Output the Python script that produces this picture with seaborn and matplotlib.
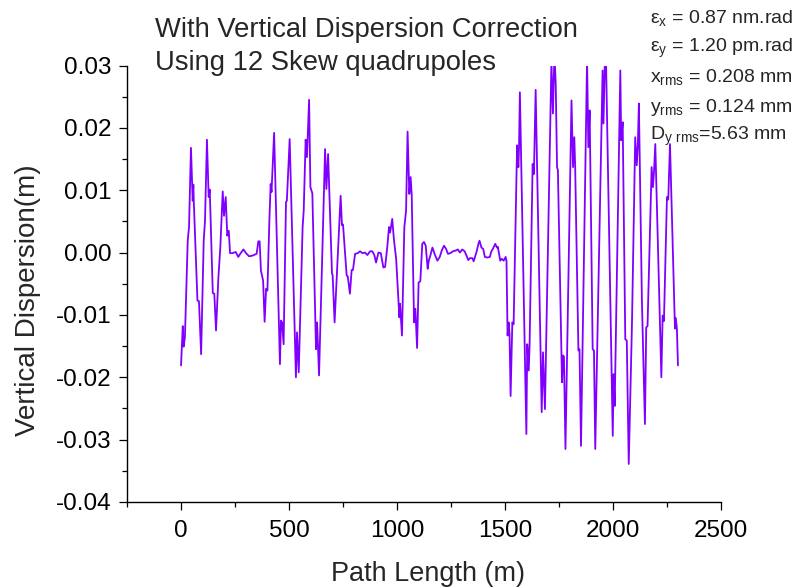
import numpy as np
import pandas as pd
import matplotlib
matplotlib.use("Agg")
import matplotlib.pyplot as plt
import seaborn as sns
from matplotlib.ticker import MultipleLocator, FormatStrFormatter

# ---- data ----
path_length = [
    0, 8, 12, 18, 31, 37, 46, 54, 57, 59, 76, 83, 93, 105, 111, 120, 128, 133, 147, 154,
    162, 173, 182, 193, 199, 207, 214, 221, 227, 238, 253, 265, 276, 289, 301, 315, 330, 350, 358, 364,
    370, 380, 387, 394, 400, 409, 415, 419, 431, 458, 463, 468, 475, 486, 490, 503, 532, 537, 545, 563,
    568, 577, 583, 593, 599, 608, 625, 630, 639, 667, 673, 681, 699, 702, 711, 739, 745, 750, 767, 772,
    782, 790, 796, 806, 818, 829, 840, 852, 863, 875, 886, 895, 903, 914, 925, 937, 945, 955, 963, 968,
    978, 986, 996, 1011, 1014, 1023, 1034, 1042, 1049, 1057, 1063, 1068, 1079, 1085, 1093, 1100, 1108, 1117, 1125, 1133,
    1142, 1147, 1155, 1164, 1176, 1187, 1198, 1208, 1218, 1227, 1236, 1247, 1259, 1270, 1282, 1291, 1302, 1313, 1322, 1330,
    1338, 1349, 1355, 1361, 1369, 1377, 1382, 1391, 1399, 1407, 1418, 1430, 1437, 1444, 1455, 1463, 1467, 1478, 1485, 1494,
    1503, 1507, 1512, 1517, 1521, 1526, 1534, 1540, 1556, 1562, 1565, 1569, 1599, 1603, 1610, 1614, 1628, 1634, 1642, 1670,
    1676, 1680, 1685, 1715, 1722, 1729, 1735, 1741, 1745, 1764, 1769, 1773, 1780, 1808, 1815, 1821, 1825, 1840, 1845, 1852,
    1880, 1886, 1892, 1906, 1912, 1918, 1952, 1956, 1963, 1968, 1999, 2003, 2008, 2034, 2038, 2045, 2057, 2064, 2073, 2088,
    2103, 2110, 2115, 2120, 2134, 2148, 2154, 2160, 2179, 2185, 2190, 2196, 2224, 2230, 2236, 2250, 2256, 2264, 2287, 2291,
    2296, 2301,
]
dispersion_y = [
    -0.0181, -0.0118, -0.0151, -0.0136, 0.0019, 0.0041, 0.0168, 0.0083, 0.0109, 0.0083, -0.0077, -0.0078, -0.0163, 0.0019, 0.0051, 0.0181, 0.0089, 0.0101, -0.0065, -0.0066,
    -0.0125, -0.0040, 0.0009, 0.0098, 0.0059, 0.0089, 0.0027, 0.0035, -0.0001, -0.0001, 0.0001, -0.0007, -0.0001, 0.0005, -0.0001, -0.0006, -0.0005, -0.0002, 0.0018, 0.0018,
    -0.0029, -0.0045, -0.0111, -0.0058, -0.0061, 0.0051, 0.0110, 0.0097, 0.0192, -0.0179, -0.0109, -0.0112, -0.0147, 0.0081, 0.0083, 0.0182, -0.0200, -0.0128, -0.0192, 0.0041,
    0.0067, 0.0181, 0.0153, 0.0245, 0.0105, 0.0095, -0.0155, -0.0112, -0.0197, 0.0166, 0.0102, 0.0158, -0.0034, -0.0036, -0.0112, 0.0091, 0.0044, 0.0045, -0.0037, -0.0038,
    -0.0066, -0.0028, -0.0028, -0.0002, -0.0001, 0.0002, -0.0001, 0.0000, -0.0004, 0.0002, 0.0002, -0.0004, -0.0016, 0.0000, -0.0001, -0.0024, -0.0023, 0.0009, 0.0041, 0.0032,
    0.0054, 0.0020, -0.0010, -0.0104, -0.0082, -0.0133, 0.0041, 0.0067, 0.0194, 0.0094, 0.0121, 0.0094, -0.0112, -0.0090, -0.0153, -0.0048, -0.0046, 0.0014, 0.0017, 0.0011,
    -0.0026, -0.0013, -0.0004, 0.0008, -0.0004, -0.0013, -0.0007, 0.0004, 0.0011, 0.0006, -0.0002, -0.0001, 0.0002, 0.0003, 0.0005, 0.0000, 0.0005, 0.0002, -0.0005, -0.0012,
    -0.0009, -0.0009, -0.0014, -0.0007, 0.0002, 0.0014, 0.0019, 0.0008, 0.0006, -0.0007, -0.0008, -0.0007, 0.0002, 0.0006, 0.0014, 0.0008, 0.0009, -0.0013, -0.0010, -0.0013,
    -0.0007, -0.0013, -0.0133, -0.0112, -0.0130, -0.0230, -0.0112, -0.0115, 0.0172, 0.0137, 0.0168, 0.0257, -0.0291, -0.0147, -0.0189, -0.0147, 0.0142, 0.0126, 0.0261, -0.0256,
    -0.0160, -0.0200, -0.0251, 0.0305, 0.0223, 0.0320, 0.0270, 0.0137, 0.0132, -0.0208, -0.0165, -0.0167, -0.0315, 0.0244, 0.0137, 0.0185, 0.0137, -0.0157, -0.0155, -0.0310,
    0.0310, 0.0169, 0.0228, -0.0155, -0.0157, -0.0315, 0.0292, 0.0207, 0.0315, 0.0305, -0.0294, -0.0195, -0.0246, 0.0292, 0.0180, 0.0209, -0.0139, -0.0141, -0.0339, -0.0114,
    0.0185, 0.0140, 0.0170, 0.0239, -0.0077, -0.0275, -0.0120, -0.0118, 0.0137, 0.0105, 0.0130, 0.0174, -0.0200, -0.0101, -0.0110, 0.0089, 0.0085, 0.0174, -0.0122, -0.0105,
    -0.0122, -0.0181,
]
title_lines = ["With Vertical Dispersion Correction", "Using 12 Skew quadrupoles"]
param_lines = [
    "ε$_{x}$ = 0.87 nm.rad",
    "ε$_{y}$ = 1.20 pm.rad",
    "x$_{rms}$ = 0.208 mm",
    "y$_{rms}$ = 0.124 mm",
    "D$_{y\\ rms}$=5.63 mm",
]
x_label = "Path Length (m)"
y_label = "Vertical Dispersion(m)"

# ---- style ----
sns.set_style("ticks")
plt.rcParams["font.family"] = ["Liberation Sans", "DejaVu Sans"]
plt.rcParams["mathtext.default"] = "regular"
plt.rcParams["axes.unicode_minus"] = False

df = pd.DataFrame({"s": path_length, "Dy": dispersion_y})

fig = plt.figure(figsize=(7.94, 5.88), dpi=100)
ax = fig.add_axes([0.160, 0.1463, 0.748, 0.7423])

sns.lineplot(data=df, x="s", y="Dy", ax=ax, sort=False, estimator=None,
             color="#8000ff", linewidth=1.3)

ax.set_xlim(-250, 2500)
ax.set_ylim(-0.04, 0.03)
ax.xaxis.set_major_locator(MultipleLocator(500))
ax.xaxis.set_minor_locator(MultipleLocator(250))
ax.yaxis.set_major_locator(MultipleLocator(0.01))
ax.yaxis.set_minor_locator(MultipleLocator(0.005))
ax.yaxis.set_major_formatter(FormatStrFormatter("%.2f"))

for side in ("top", "right"):
    ax.spines[side].set_visible(False)
for side in ("left", "bottom"):
    ax.spines[side].set_linewidth(1.0)
    ax.spines[side].set_color("black")

ax.tick_params(which="major", direction="out", length=6, width=0.9,
               labelsize=17.5, colors="black")
ax.tick_params(axis="x", which="major", pad=7)
ax.tick_params(axis="y", which="major", pad=5)
ax.tick_params(which="minor", direction="out", length=3.5, width=0.9, colors="black")

ax.set_xlabel(x_label, fontsize=19.5)
ax.set_ylabel(y_label, fontsize=20)
ax.xaxis.set_label_coords(0.507, -0.135)
ax.yaxis.set_label_coords(-0.145, 0.463)

fig.text(155 / 794, 1 - 37 / 588, title_lines[0], fontsize=19.7, ha="left", va="baseline")
fig.text(155 / 794, 1 - 70 / 588, title_lines[1], fontsize=19.7, ha="left", va="baseline")

ys = [18, 48, 77, 107, 136]
for txt, yy in zip(param_lines, ys):
    fig.text(650 / 794, 1 - yy / 588, txt, fontsize=14, ha="left", va="center")

fig.savefig("out.png", dpi=100)
